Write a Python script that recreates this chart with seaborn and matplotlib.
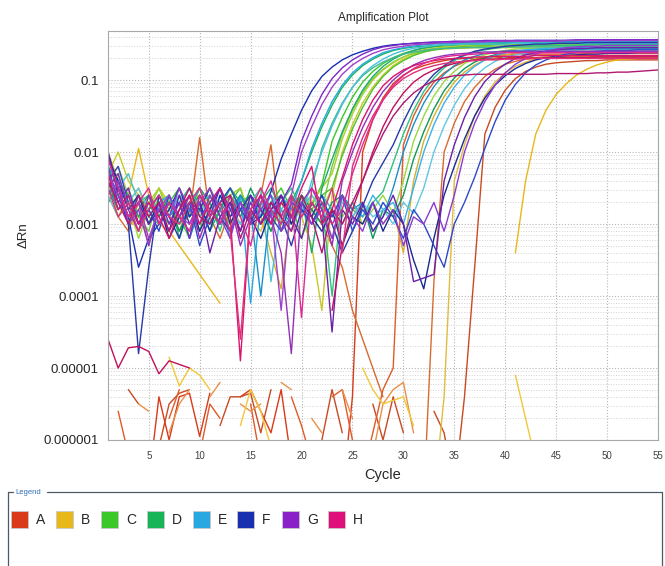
import numpy as np
import pandas as pd
import seaborn as sns
import matplotlib.pyplot as plt
from matplotlib.patches import Rectangle
from matplotlib.lines import Line2D
from matplotlib.ticker import LogLocator, NullFormatter

# Aesthetics
sns.set_style("white")
plt.rcParams["font.family"] = ["Liberation Sans", "DejaVu Sans"]

# Axis values
cycles = list(range(1, 56))
x_ticks = [5, 10, 15, 20, 25, 30, 35, 40, 45, 50, 55]
y_ticks = [1e-6, 1e-5, 1e-4, 1e-3, 1e-2, 1e-1]
y_tick_labels = ["0.000001", "0.00001", "0.0001", "0.001", "0.01", "0.1"]

# Legend rows and their colours
rows = ["A", "B", "C", "D", "E", "F", "G", "H"]
legend_colors = ["#d83a1a", "#e8b818", "#3cc828", "#18b458", "#28a8e0", "#1830b0", "#8a20c8", "#e0107a"]

# log10(dRn) per cycle 1..55, "_" = no value (negative dRn), "|" every 5 cycles
a1 = "_ _ _ _ -6.6 | -5.4 -6.0 -5.4 -5.35 -5.95 | -5.35 _ _ -5.4 -5.3 | -5.6 -5.9 -5.3 -6.3 _ | _ _ _ -6.8 -5.4 | -2.0 -1.55 -1.25 -1.05 -0.93 | -0.85 -0.8 -0.76 -0.73 -0.71 | -0.7 -0.7 -0.7 -0.69 -0.69 | -0.69 -0.69 -0.69 -0.68 -0.68 | -0.68 -0.68 -0.68 -0.68 -0.68 | -0.68 -0.68 -0.68 -0.68 -0.68"
a2 = "_ _ -5.3 -5.5 _ | -6.1 -5.5 -5.35 -5.3 _ | _ -5.8 -5.4 -5.4 -5.35 | -5.9 -5.3 _ _ _ | -6.5 -6.0 -5.3 -5.9 _ | _ -5.5 -6.0 -5.4 -5.9 | _ _ -5.6 -5.9 -6.7 | -5.4 -3.6 -1.75 -1.38 -1.14 | -0.98 -0.88 -0.82 -0.78 -0.76 | -0.75 -0.74 -0.73 -0.73 -0.72 | -0.72 -0.72 -0.72 -0.72 -0.72"
a3 = "_ -5.6 -6.2 _ _ | _ -5.7 -5.3 _ -6.2 | -5.5 -5.7 _ _ -5.5 | -6.3 _ _ -5.4 -5.8 | -6.3 _ -5.4 -5.3 -6.0 | -6.5 -5.9 -5.3 -5.0 -1.9 | -1.5 -1.22 -1.03 -0.9 -0.81 | -0.75 -0.71 -0.68 -0.66 -0.65 | -0.64 -0.64 -0.64 -0.64 -0.64 | -0.64 -0.64 -0.63 -0.63 -0.63 | -0.63 -0.63 -0.63 -0.63 -0.63"
a4 = "-2.6 -2.9 -3.1 -2.7 -3.3 | -2.8 -3.0 -2.7 -2.9 -1.8 | -2.9 -3.2 -2.8 -2.7 -3.0 | -2.6 -1.9 -3.1 -2.9 -2.7 | -2.8 -3.0 -3.3 -3.6 -4.2 | -4.6 -5.0 -5.4 _ _ | _ -6.8 -3.8 -2.0 -1.6 | -1.3 -1.1 -0.95 -0.85 -0.78 | -0.74 -0.71 -0.7 -0.69 -0.68 | -0.68 -0.67 -0.67 -0.67 -0.66 | -0.66 -0.66 -0.66 -0.66 -0.66"
a5 = "_ _ _ -5.5 -5.6 | _ -5.9 -5.5 -5.3 _ | -5.4 -5.2 _ -5.5 -5.6 | -5.5 _ -5.2 -5.3 _ | -5.7 -5.9 _ -5.3 -5.7 | _ -6.2 -5.5 -5.3 -5.2 | -5.9 _ _ _ _ | _ _ _ _ _ | _ _ _ _ _ | _ _ _ _ _ | _ _ _ _ _"

b1 = "-2.4 -2.9 -2.6 -1.95 -2.6 | -3.0 -3.1 -3.3 -3.5 -3.7 | -3.9 -4.1 _ _ _ | _ _ _ _ _ | _ _ _ _ _ | _ _ _ _ _ | _ _ _ _ _ | _ _ _ _ _ | -3.4 -2.4 -1.75 -1.42 -1.2 | -1.05 -0.93 -0.85 -0.79 -0.75 | -0.72 -0.71 -0.7 -0.69 -0.69"
b2 = "_ _ _ _ _ | _ -4.85 -5.25 -5.0 -5.1 | -5.3 _ _ -5.8 -5.3 | -5.6 -6.1 _ _ _ | _ _ _ _ _ | -5.0 -5.3 -5.5 -5.45 -5.4 | -5.8 _ _ _ _ | _ _ _ _ _ | -5.1 -5.7 -6.3 _ _ | _ _ _ _ _ | _ _ _ _ _"
b3 = "-2.3 -2.0 -2.4 -2.6 -2.8 | -2.5 -2.7 -3.0 -2.6 -2.8 | -2.9 -2.7 -2.5 -2.8 -3.0 | -2.6 -2.9 -2.7 -2.8 -2.9 | -3.3 -4.2 -2.6 -2.0 -1.62 | -1.32 -1.1 -0.93 -0.8 -0.71 | -0.65 -0.61 -0.58 -0.57 -0.56 | -0.56 -0.55 -0.55 -0.55 -0.55 | -0.55 -0.54 -0.54 -0.54 -0.54 | -0.54 -0.54 -0.54 -0.54 -0.54 | -0.54 -0.54 -0.54 -0.54 -0.54"
b4 = "-2.7 -2.5 -2.9 -3.1 -2.6 | -2.8 -3.0 -2.7 -2.9 -2.5 | -2.7 -3.0 -2.8 -2.6 -2.9 | -3.1 -2.7 -2.9 -2.6 -2.8 | -2.9 -2.7 -3.2 -2.8 _ | _ _ _ _ _ | _ _ -6.8 -5.4 -2.4 | -1.9 -1.5 -1.22 -1.03 -0.9 | -0.81 -0.75 -0.71 -0.68 -0.66 | -0.65 -0.64 -0.64 -0.63 -0.63 | -0.62 -0.62 -0.62 -0.62 -0.62"
b5 = "-2.0 -2.4 -2.7 -2.5 -2.9 | -2.7 -2.6 -2.9 -3.1 -2.8 | -2.6 -2.9 -2.7 -3.0 -2.6 | -2.9 -3.4 -3.9 -2.8 -2.7 | -2.9 -2.6 -2.8 -3.0 -2.7 | -2.9 -2.7 -3.0 -2.8 -3.4 | -2.4 -1.85 -1.5 -1.23 -1.03 | -0.89 -0.79 -0.72 -0.68 -0.65 | -0.63 -0.62 -0.61 -0.61 -0.6 | -0.6 -0.6 -0.6 -0.6 -0.6 | -0.6 -0.6 -0.6 -0.6 -0.6"

c1 = "-2.3 -2.6 -2.9 -2.7 -3.0 | -2.8 -2.6 -2.9 -3.2 -2.7 | -2.5 -2.8 -3.0 -2.7 -2.6 | -2.9 -2.7 -2.5 -2.8 -2.6 | -2.75 -2.45 -1.85 -1.52 -1.24 | -1.03 -0.88 -0.77 -0.69 -0.63 | -0.59 -0.56 -0.54 -0.53 -0.52 | -0.51 -0.51 -0.5 -0.5 -0.5 | -0.5 -0.5 -0.49 -0.49 -0.49 | -0.49 -0.49 -0.49 -0.49 -0.49 | -0.49 -0.48 -0.48 -0.48 -0.48"
c2 = "-2.2 -2.7 -2.5 -2.9 -3.1 | -2.6 -2.8 -3.0 -2.7 -2.5 | -2.9 -2.7 -3.1 -2.6 -2.8 | -3.0 -2.7 -2.6 -2.9 -2.75 | -2.6 -2.8 -2.2 -1.75 -1.42 | -1.17 -0.98 -0.85 -0.75 -0.68 | -0.63 -0.6 -0.58 -0.56 -0.55 | -0.54 -0.54 -0.53 -0.53 -0.53 | -0.53 -0.52 -0.52 -0.52 -0.52 | -0.52 -0.52 -0.52 -0.51 -0.51 | -0.51 -0.51 -0.51 -0.51 -0.51"
c3 = "-2.5 -2.3 -2.8 -2.6 -2.9 | -3.0 -2.7 -2.5 -2.8 -3.1 | -2.6 -2.9 -2.7 -2.5 -3.0 | -2.8 -2.6 -2.9 -2.7 -3.2 | -2.8 -2.6 -2.5 -2.05 -1.68 | -1.38 -1.13 -0.95 -0.82 -0.73 | -0.66 -0.61 -0.58 -0.56 -0.54 | -0.53 -0.52 -0.52 -0.51 -0.51 | -0.51 -0.5 -0.5 -0.5 -0.5 | -0.5 -0.5 -0.5 -0.5 -0.5 | -0.5 -0.5 -0.5 -0.5 -0.5"
c4 = "-2.6 -2.9 -2.7 -3.2 -2.8 | -2.5 -2.9 -3.1 -2.7 -2.6 | -3.0 -2.8 -2.6 -2.9 -2.7 | -2.5 -2.8 -3.0 -2.7 -2.9 | -2.6 -2.8 -2.5 -2.9 -2.7 | -3.0 -2.8 -2.6 -2.85 -2.4 | -1.85 -1.5 -1.22 -1.02 -0.88 | -0.77 -0.7 -0.65 -0.61 -0.59 | -0.57 -0.56 -0.56 -0.55 -0.55 | -0.55 -0.55 -0.54 -0.54 -0.54 | -0.54 -0.54 -0.54 -0.54 -0.54"
c5 = "-2.4 -2.2 -2.6 -2.9 -2.7 | -2.5 -2.8 -3.0 -2.7 -2.6 | -2.8 -3.0 -2.6 -2.5 -2.9 | -2.7 -3.1 -2.8 -2.6 -2.9 | -2.7 -2.5 -2.3 -1.82 -1.47 | -1.2 -1.0 -0.86 -0.76 -0.68 | -0.62 -0.58 -0.56 -0.54 -0.53 | -0.52 -0.51 -0.51 -0.5 -0.5 | -0.5 -0.5 -0.5 -0.49 -0.49 | -0.49 -0.49 -0.49 -0.49 -0.49 | -0.49 -0.49 -0.49 -0.49 -0.49"

d1 = "-2.1 -2.4 -2.6 -2.9 -2.7 | -3.0 -2.8 -2.6 -2.9 -2.7 | -3.1 -2.8 -2.5 -2.7 -2.9 | -2.6 -2.8 -3.0 -2.7 -2.4 | -2.0 -1.65 -1.35 -1.1 -0.93 | -0.8 -0.71 -0.64 -0.59 -0.56 | -0.54 -0.53 -0.52 -0.51 -0.51 | -0.5 -0.5 -0.5 -0.5 -0.49 | -0.49 -0.49 -0.49 -0.49 -0.49 | -0.48 -0.48 -0.48 -0.48 -0.48 | -0.48 -0.48 -0.48 -0.48 -0.48"
d2 = "-2.4 -2.8 -2.6 -3.0 -2.7 | -2.9 -2.6 -3.2 -2.8 -2.5 | -2.7 -3.0 -2.8 -2.6 -2.9 | -2.7 -2.5 -2.8 -3.0 -2.6 | -3.4 -2.5 -2.1 -1.72 -1.4 | -1.14 -0.95 -0.81 -0.71 -0.64 | -0.59 -0.55 -0.53 -0.51 -0.5 | -0.49 -0.49 -0.48 -0.48 -0.48 | -0.47 -0.47 -0.47 -0.47 -0.47 | -0.47 -0.46 -0.46 -0.46 -0.46 | -0.46 -0.46 -0.46 -0.46 -0.46"
d3 = "-2.2 -2.5 -2.9 -2.7 -2.6 | -2.8 -3.0 -2.7 -2.5 -2.9 | -2.7 -3.1 -2.6 -2.8 -3.0 | -2.6 -2.9 -2.7 -2.5 -2.8 | -3.0 -2.7 -4.0 -2.6 -2.8 | -2.9 -2.7 -2.55 -2.15 -1.75 | -1.42 -1.16 -0.97 -0.83 -0.73 | -0.66 -0.61 -0.58 -0.56 -0.54 | -0.53 -0.53 -0.52 -0.52 -0.52 | -0.52 -0.52 -0.51 -0.51 -0.51 | -0.51 -0.51 -0.51 -0.51 -0.51"
d4 = "-2.7 -2.5 -3.0 -2.8 -2.6 | -2.9 -2.7 -3.1 -2.8 -2.6 | -2.8 -3.0 -2.7 -2.9 -2.5 | -2.8 -3.1 -2.7 -2.9 -2.6 | -2.8 -3.0 -2.7 -2.6 -2.9 | -2.7 -3.2 -2.8 -2.9 -2.6 | -2.1 -1.72 -1.4 -1.15 -0.97 | -0.84 -0.75 -0.69 -0.65 -0.62 | -0.6 -0.59 -0.58 -0.57 -0.57 | -0.56 -0.56 -0.56 -0.56 -0.56 | -0.56 -0.56 -0.56 -0.56 -0.56"
d5 = "-2.6 -2.4 -2.7 -3.0 -2.8 | -2.6 -2.9 -2.7 -2.5 -2.8 | -3.0 -2.7 -2.5 -2.8 -2.6 | -2.9 -2.7 -2.6 -3.0 -2.75 | -2.5 -1.95 -1.6 -1.32 -1.1 | -0.94 -0.83 -0.75 -0.69 -0.64 | -0.61 -0.59 -0.57 -0.56 -0.56 | -0.55 -0.55 -0.55 -0.55 -0.54 | -0.54 -0.54 -0.54 -0.54 -0.54 | -0.54 -0.54 -0.54 -0.54 -0.54 | -0.54 -0.54 -0.54 -0.54 -0.54"

e1 = "-2.2 -2.4 -2.8 -2.6 -2.9 | -2.7 -2.6 -3.0 -2.8 -2.5 | -2.9 -2.7 -3.2 -2.6 -4.1 | -2.7 -2.9 -2.6 -2.8 -2.4 | -1.95 -1.6 -1.3 -1.07 -0.9 | -0.78 -0.69 -0.62 -0.58 -0.55 | -0.53 -0.51 -0.5 -0.49 -0.49 | -0.48 -0.48 -0.48 -0.47 -0.47 | -0.47 -0.47 -0.47 -0.47 -0.47 | -0.47 -0.47 -0.46 -0.46 -0.46 | -0.46 -0.46 -0.46 -0.46 -0.46"
e2 = "-2.1 -2.5 -2.3 -2.7 -3.0 | -2.8 -2.6 -2.9 -3.1 -2.7 | -2.6 -2.9 -2.8 -3.0 -2.7 | -2.5 -3.8 -2.8 -2.6 -2.9 | -2.4 -2.0 -1.64 -1.34 -1.1 | -0.92 -0.8 -0.71 -0.64 -0.59 | -0.56 -0.54 -0.52 -0.51 -0.51 | -0.5 -0.5 -0.5 -0.5 -0.5 | -0.49 -0.49 -0.49 -0.49 -0.49 | -0.49 -0.49 -0.49 -0.49 -0.49 | -0.49 -0.49 -0.49 -0.49 -0.49"
e3 = "-2.5 -2.8 -2.6 -3.0 -2.8 | -2.6 -2.9 -2.7 -3.2 -2.8 | -3.0 -2.7 -2.9 -2.6 -2.8 | -4.0 -2.7 -2.9 -2.6 -2.8 | -3.0 -2.7 -2.9 -2.6 -2.8 | -2.7 -3.1 -2.9 -2.5 -2.0 | -1.62 -1.32 -1.09 -0.92 -0.8 | -0.72 -0.67 -0.63 -0.61 -0.6 | -0.59 -0.59 -0.58 -0.58 -0.58 | -0.58 -0.58 -0.57 -0.57 -0.57 | -0.57 -0.57 -0.57 -0.57 -0.57"
e4 = "-2.3 -2.7 -2.9 -2.6 -3.0 | -2.7 -2.9 -2.6 -2.8 -3.0 | -2.7 -2.5 -2.8 -3.0 -2.7 | -2.9 -2.6 -2.8 -3.1 -2.7 | -2.9 -2.6 -2.8 -3.0 -2.7 | -2.9 -2.6 -2.8 -2.7 -3.0 | -2.5 -2.0 -1.62 -1.32 -1.1 | -0.93 -0.81 -0.72 -0.66 -0.62 | -0.6 -0.58 -0.57 -0.56 -0.56 | -0.55 -0.55 -0.55 -0.55 -0.55 | -0.55 -0.55 -0.55 -0.55 -0.55"
e5 = "-2.6 -2.9 -2.7 -2.5 -2.8 | -3.0 -2.8 -2.6 -2.9 -2.7 | -2.9 -2.6 -2.8 -3.0 -2.7 | -2.8 -2.6 -2.9 -2.7 -2.8 | -2.6 -2.8 -3.0 -2.7 -2.9 | -2.7 -2.9 -2.8 -3.0 -2.7 | -2.85 -2.5 -2.0 -1.64 -1.35 | -1.12 -0.95 -0.83 -0.74 -0.68 | -0.65 -0.63 -0.62 -0.61 -0.61 | -0.6 -0.6 -0.6 -0.6 -0.6 | -0.6 -0.6 -0.6 -0.6 -0.6"

f1 = "-2.0 -2.5 -2.9 -3.6 -3.2 | -3.0 -2.8 -2.5 -2.9 -2.7 | -3.1 -2.6 -2.9 -2.7 -3.0 | -2.9 -2.55 -2.1 -1.75 -1.42 | -1.15 -0.95 -0.82 -0.72 -0.65 | -0.6 -0.56 -0.53 -0.51 -0.5 | -0.49 -0.48 -0.48 -0.47 -0.47 | -0.47 -0.46 -0.46 -0.46 -0.46 | -0.45 -0.45 -0.45 -0.45 -0.45 | -0.45 -0.45 -0.44 -0.44 -0.44 | -0.44 -0.44 -0.44 -0.44 -0.44"
f2 = "-2.3 -2.6 -3.0 -4.8 -3.6 | -2.6 -2.9 -3.2 -2.7 -2.8 | -2.5 -2.9 -3.1 -2.8 -2.6 | -3.0 -2.7 -2.9 -3.3 -2.8 | -2.9 -2.6 -3.0 -3.4 -3.1 | -2.75 -2.4 -2.15 -1.9 -1.58 | -1.3 -1.08 -0.92 -0.8 -0.71 | -0.65 -0.6 -0.57 -0.55 -0.53 | -0.52 -0.51 -0.5 -0.5 -0.49 | -0.49 -0.49 -0.48 -0.48 -0.48 | -0.48 -0.48 -0.48 -0.48 -0.48"
f3 = "-2.1 -2.4 -2.8 -2.6 -3.0 | -2.7 -3.2 -2.9 -2.6 -3.1 | -2.8 -2.5 -3.0 -2.7 -2.9 | -3.2 -2.8 -2.6 -3.0 -2.7 | -2.9 -3.1 -2.8 -3.3 -2.9 | -3.0 -2.7 -3.1 -2.8 -3.0 | -3.5 -3.9 -3.2 -2.6 -2.2 | -1.82 -1.5 -1.25 -1.07 -0.94 | -0.84 -0.77 -0.72 -0.69 -0.67 | -0.66 -0.65 -0.64 -0.64 -0.63 | -0.63 -0.63 -0.62 -0.62 -0.62"
f4 = "-2.4 -2.2 -2.7 -3.0 -2.8 | -3.1 -2.6 -2.9 -2.7 -3.3 | -2.9 -2.7 -2.5 -2.8 -3.0 | -2.6 -2.9 -3.1 -2.7 -2.8 | -3.0 -2.7 -2.9 -2.6 -3.1 | -2.8 -3.0 -2.7 -2.9 -3.2 | -2.8 -3.0 -3.3 -3.6 -3.0 | -2.7 -2.35 -1.95 -1.58 -1.28 | -1.06 -0.9 -0.79 -0.72 -0.67 | -0.64 -0.62 -0.61 -0.6 -0.59 | -0.59 -0.59 -0.58 -0.58 -0.58"

g1 = "-2.2 -2.7 -2.5 -3.0 -2.8 | -2.6 -3.0 -2.7 -3.2 -2.6 | -2.9 -2.5 -2.8 -3.1 -2.7 | -3.0 -2.8 -2.7 -2.45 -1.85 | -1.5 -1.2 -0.98 -0.83 -0.72 | -0.64 -0.58 -0.54 -0.52 -0.5 | -0.49 -0.48 -0.47 -0.47 -0.46 | -0.46 -0.46 -0.45 -0.45 -0.45 | -0.45 -0.45 -0.45 -0.45 -0.45 | -0.45 -0.44 -0.44 -0.44 -0.44 | -0.44 -0.44 -0.44 -0.44 -0.44"
g2 = "-2.5 -2.3 -2.8 -3.1 -2.6 | -3.0 -2.7 -2.9 -2.6 -3.2 | -2.8 -3.0 -2.7 -3.3 -2.9 | -2.6 -2.9 -3.4 -4.8 -2.7 | -2.5 -2.8 -3.3 -2.4 -2.0 | -1.66 -1.38 -1.16 -1.0 -0.88 | -0.79 -0.73 -0.69 -0.66 -0.64 | -0.63 -0.62 -0.61 -0.61 -0.6 | -0.6 -0.6 -0.6 -0.6 -0.6 | -0.6 -0.6 -0.6 -0.6 -0.6 | -0.6 -0.6 -0.6 -0.6 -0.6"
g3 = "-2.0 -2.6 -2.9 -2.7 -3.0 | -2.8 -3.1 -2.6 -3.0 -2.7 | -3.4 -2.9 -2.7 -3.1 -2.6 | -2.8 -3.0 -2.6 -2.9 -3.2 | -2.7 -2.9 -4.5 -2.8 -3.0 | -2.7 -3.1 -2.9 -2.6 -3.0 | -3.8 -3.75 -3.7 -2.4 -1.9 | -1.52 -1.23 -1.02 -0.88 -0.78 | -0.7 -0.65 -0.62 -0.6 -0.58 | -0.57 -0.56 -0.56 -0.55 -0.55 | -0.55 -0.55 -0.55 -0.55 -0.55"
g4 = "-2.6 -2.4 -3.0 -2.8 -3.3 | -2.7 -2.9 -2.5 -2.8 -3.0 | -2.6 -2.9 -3.2 -2.7 -3.0 | -2.8 -2.6 -3.1 -2.9 -2.7 | -3.0 -2.8 -3.2 -2.6 -2.9 | -3.1 -2.7 -3.0 -2.8 -3.3 | -2.9 -3.0 -2.7 -3.1 -2.6 | -2.0 -1.6 -1.3 -1.07 -0.9 | -0.78 -0.7 -0.64 -0.6 -0.57 | -0.55 -0.54 -0.53 -0.53 -0.52 | -0.52 -0.52 -0.52 -0.52 -0.52"
g5 = "-2.3 -2.6 -2.9 -2.7 -3.2 | -2.8 -2.6 -2.9 -3.0 -2.7 | -2.5 -2.8 -3.1 -2.7 -2.9 | -2.6 -2.8 -4.2 -2.6 -2.0 | -1.65 -1.34 -1.1 -0.92 -0.79 | -0.7 -0.63 -0.58 -0.55 -0.53 | -0.51 -0.5 -0.49 -0.48 -0.48 | -0.47 -0.47 -0.47 -0.46 -0.46 | -0.46 -0.46 -0.46 -0.46 -0.46 | -0.45 -0.45 -0.45 -0.45 -0.45 | -0.45 -0.45 -0.45 -0.45 -0.45"

h1 = "-2.3 -2.8 -2.6 -3.0 -2.7 | -2.9 -3.2 -2.8 -2.6 -3.0 | -2.7 -2.5 -2.9 -4.9 -2.8 | -2.6 -3.0 -2.7 -2.9 -2.5 | -2.2 -3.0 -2.8 -2.35 -1.9 | -1.55 -1.28 -1.08 -0.95 -0.86 | -0.8 -0.76 -0.73 -0.71 -0.7 | -0.69 -0.68 -0.68 -0.67 -0.67 | -0.67 -0.67 -0.66 -0.66 -0.66 | -0.66 -0.66 -0.66 -0.66 -0.66 | -0.66 -0.66 -0.66 -0.66 -0.66"
h2 = "-2.1 -2.5 -2.9 -2.7 -2.5 | -3.0 -2.7 -2.9 -3.1 -2.6 | -2.8 -3.0 -2.6 -2.9 -3.3 | -2.7 -2.4 -2.9 -2.6 -4.3 | -2.5 -2.7 -3.0 -2.8 -2.3 | -1.9 -1.55 -1.28 -1.08 -0.94 | -0.84 -0.77 -0.72 -0.68 -0.66 | -0.65 -0.64 -0.63 -0.63 -0.62 | -0.62 -0.62 -0.62 -0.62 -0.62 | -0.62 -0.62 -0.62 -0.62 -0.62 | -0.62 -0.62 -0.62 -0.62 -0.62"
h3 = "-4.6 -5.0 -4.72 -4.7 -4.77 | -5.08 -4.9 -4.95 -5.0 _ | _ _ _ _ _ | _ _ _ _ _ | _ _ -4.2 -3.3 -2.8 | -2.4 -2.0 -1.65 -1.38 -1.18 | -1.03 -0.93 -0.86 -0.81 -0.77 | -0.74 -0.72 -0.71 -0.71 -0.7 | -0.7 -0.7 -0.7 -0.69 -0.69 | -0.69 -0.69 -0.69 -0.68 -0.68 | -0.68 -0.68 -0.68 -0.68 -0.68"
h4 = "-2.4 -2.7 -3.0 -2.6 -2.9 | -2.7 -3.1 -2.8 -2.5 -2.9 | -3.0 -2.7 -2.6 -3.2 -2.8 | -3.0 -2.7 -2.9 -3.1 -2.6 | -2.9 -3.4 -2.8 -3.0 -2.7 | -2.4 -2.05 -1.75 -1.5 -1.32 | -1.18 -1.08 -1.01 -0.97 -0.94 | -0.93 -0.92 -0.92 -0.92 -0.92 | -0.92 -0.92 -0.92 -0.92 -0.91 | -0.91 -0.91 -0.91 -0.9 -0.9 | -0.89 -0.89 -0.88 -0.87 -0.86"
h5 = "-2.5 -2.9 -2.7 -3.1 -2.8 | -2.6 -2.9 -3.0 -2.7 -2.5 | -2.9 -2.7 -3.1 -4.6 -2.8 | -2.5 -2.8 -3.0 -2.6 -2.9 | -2.7 -2.9 -2.5 -3.4 -2.2 | -1.8 -1.5 -1.27 -1.1 -0.98 | -0.9 -0.84 -0.8 -0.77 -0.75 | -0.74 -0.73 -0.72 -0.72 -0.71 | -0.71 -0.7 -0.7 -0.7 -0.7 | -0.7 -0.7 -0.7 -0.7 -0.7 | -0.7 -0.7 -0.7 -0.7 -0.7"

row_a = [a1, a2, a3, a4, a5]
row_b = [b1, b2, b3, b4, b5]
row_c = [c1, c2, c3, c4, c5]
row_d = [d1, d2, d3, d4, d5]
row_e = [e1, e2, e3, e4, e5]
row_f = [f1, f2, f3, f4]
row_g = [g1, g2, g3, g4, g5]
row_h = [h1, h2, h3, h4, h5]

# one shade per well
shades_a = ["#d83a1a", "#c84a22", "#e05a28", "#d86a30", "#e89048"]
shades_b = ["#e8b818", "#f0c838", "#c8c828", "#e0bc40", "#d8b030"]
shades_c = ["#3cc828", "#70d038", "#50c030", "#98d840", "#a8d030"]
shades_d = ["#18b458", "#20a870", "#30c080", "#10985a", "#40b890"]
shades_e = ["#28a8e0", "#48c0d8", "#1890c8", "#38b0e8", "#60c8e0"]
shades_f = ["#1830b0", "#2838a8", "#1a2a90", "#3048c8"]
shades_g = ["#7a28c8", "#9430b8", "#6a20a8", "#8a3cd0", "#a040c8"]
shades_h = ["#d8146e", "#e02890", "#c0105a", "#b01870", "#e0307a"]

all_rows = [row_a, row_b, row_c, row_d, row_e, row_f, row_g, row_h]
all_shades = [shades_a, shades_b, shades_c, shades_d, shades_e, shades_f, shades_g, shades_h]

# Long table; a new segment starts after every gap so lines break there
records = []
palette = {}
for row, curves, shades in zip(rows, all_rows, all_shades):
    for i, (txt, color) in enumerate(zip(curves, shades)):
        well = f"{row}{i + 1}"
        palette[well] = color
        vals = [np.nan if t == "_" else float(t) for t in txt.split() if t != "|"]
        seg = 0
        gap = True
        for c, v in zip(cycles, vals):
            if np.isnan(v):
                gap = True
                continue
            if gap:
                seg += 1
                gap = False
            records.append({"cycle": c, "drn": 10 ** v, "well": well, "seg": f"{well}-{seg}"})
df = pd.DataFrame(records)

fig = plt.figure(figsize=(6.65, 5.66), dpi=100)
ax = fig.add_axes([108 / 665, 1 - 440 / 566, 550 / 665, 409 / 566])
ax.set_yscale("log")

sns.lineplot(data=df, x="cycle", y="drn", hue="well", units="seg", estimator=None,
             palette=palette, linewidth=1.0, legend=False, sort=False, ax=ax)

ax.set_xlim(1, 55)
ax.set_ylim(1e-6, 0.48)
ax.set_xticks(x_ticks)
ax.set_xticklabels([str(t) for t in x_ticks], fontsize=7, color="#404040")
ax.set_yticks(y_ticks)
ax.set_yticklabels(y_tick_labels, fontsize=9.5)
ax.yaxis.set_minor_locator(LogLocator(base=10, subs=range(2, 10)))
ax.yaxis.set_minor_formatter(NullFormatter())
ax.grid(which="major", linestyle=":", color="#b8b8b8", linewidth=0.8)
ax.grid(which="minor", axis="y", linestyle=":", color="#d4d4d4", linewidth=0.7)
ax.tick_params(axis="both", which="major", direction="out", length=3, color="#909090")
ax.tick_params(axis="x", which="major", pad=5)
ax.tick_params(axis="y", which="minor", length=0)
for s in ax.spines.values():
    s.set_color("#a8a8a8")
    s.set_linewidth(0.8)

ax.set_title("Amplification Plot", fontsize=8.5, pad=7)
ax.set_xlabel("Cycle", fontsize=10.5)
ax.set_ylabel("\u0394Rn", fontsize=9.5)
ax.xaxis.set_label_coords(0.5, -0.068)
ax.yaxis.set_label_coords(-0.142, 0.5)

# Legend panel under the chart
fig_w, fig_h = 665, 566
frame = "#4a5a66"
fig.add_artist(Line2D([8 / fig_w, 13 / fig_w], [1 - 492 / fig_h] * 2, color=frame, lw=0.9))
fig.add_artist(Line2D([47 / fig_w, 662 / fig_w], [1 - 492 / fig_h] * 2, color=frame, lw=0.9))
fig.add_artist(Line2D([8 / fig_w] * 2, [1 - 492 / fig_h, 0], color=frame, lw=0.9))
fig.add_artist(Line2D([662 / fig_w] * 2, [1 - 492 / fig_h, 0], color=frame, lw=0.9))
fig.text(15 / fig_w, 1 - 492 / fig_h, "Legend", fontsize=5.5, color="#3070b8", va="center", ha="left")

square_left = [11, 56, 101, 147, 193, 237, 282, 328]
for left, label, color in zip(square_left, rows, legend_colors):
    fig.add_artist(Rectangle((left / fig_w, 1 - 528 / fig_h), 17 / fig_w, 17 / fig_h,
                             transform=fig.transFigure, facecolor=color,
                             edgecolor="#c8c8c8", linewidth=0.6))
    fig.text((left + 25) / fig_w, 1 - 520 / fig_h, label, fontsize=10, va="center", ha="left")

fig.savefig("out.png", dpi=100)
